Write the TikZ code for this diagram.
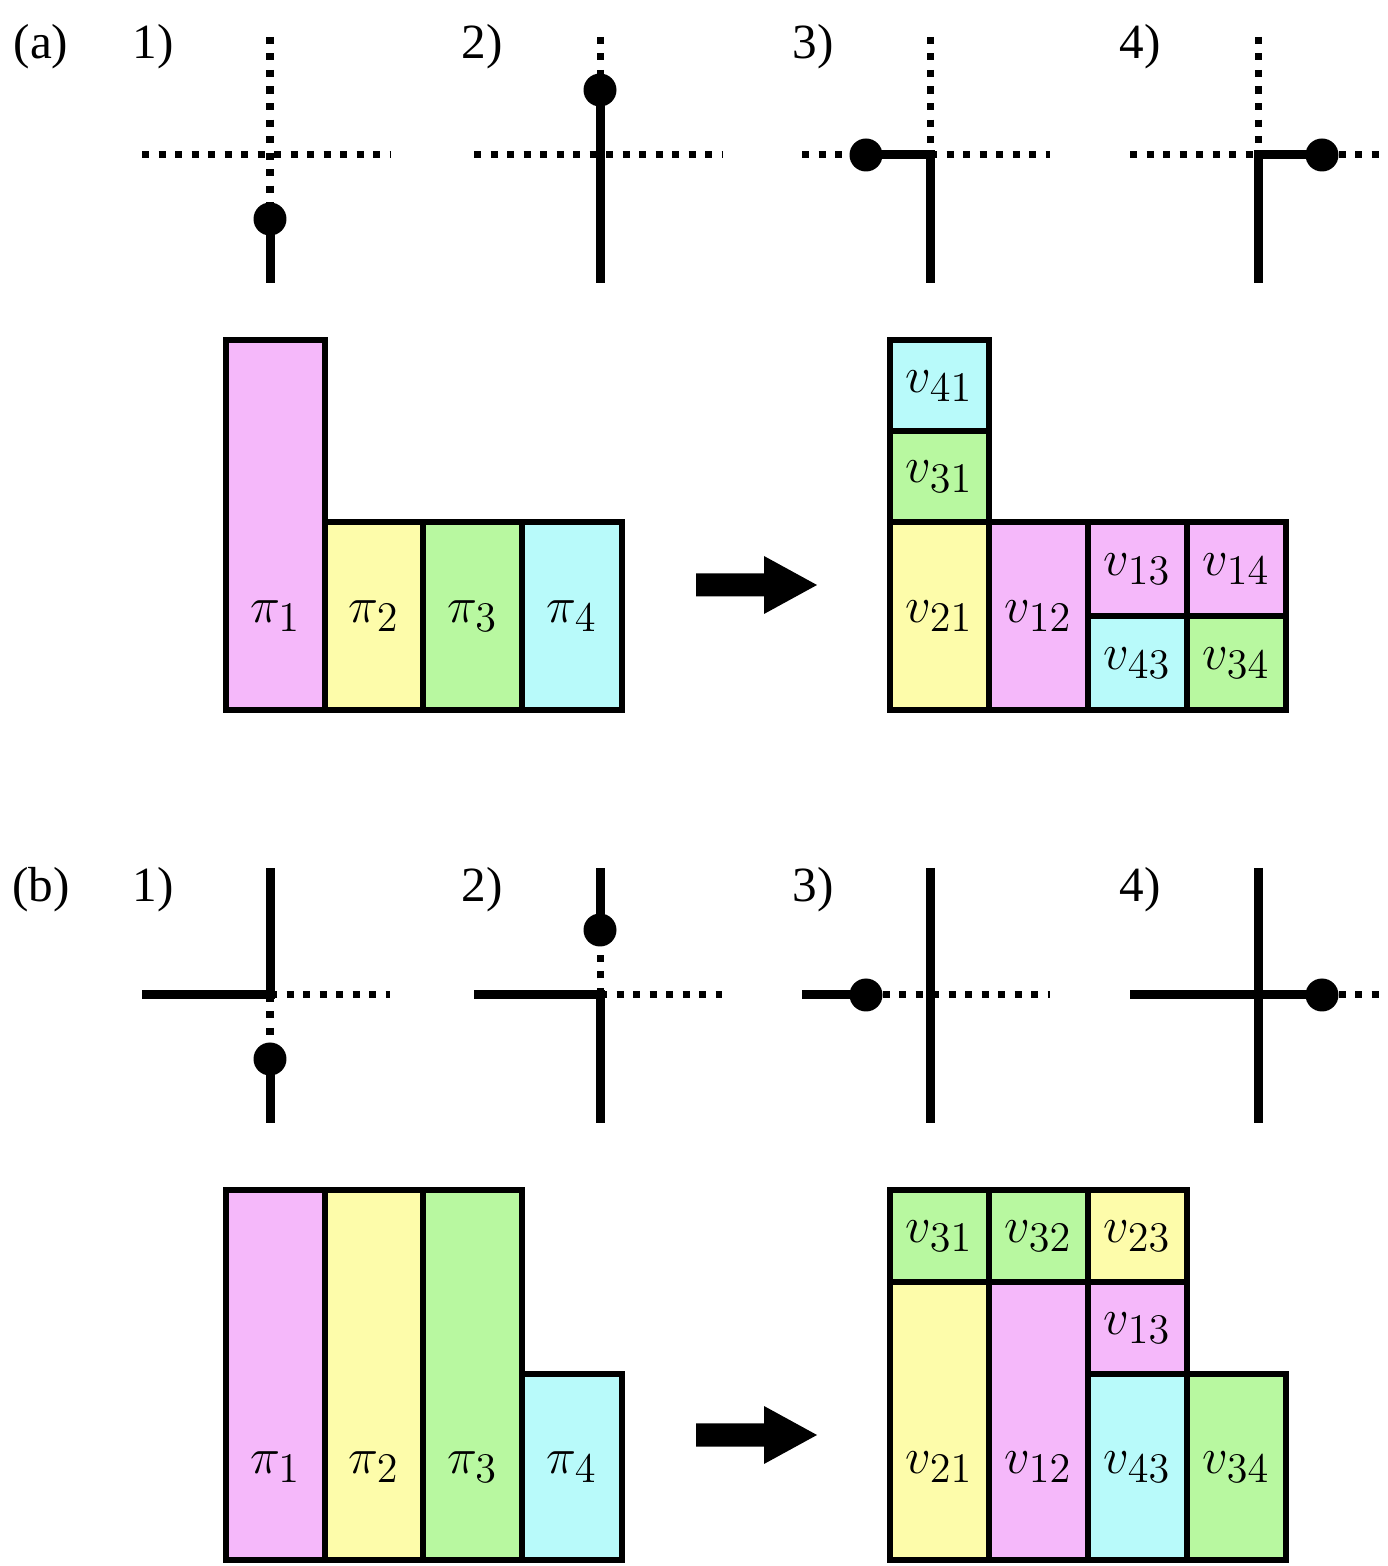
\documentclass[tikz,border=0pt]{standalone}
\usepackage[no-math]{fontspec}
\setmainfont{Liberation Serif}
\DeclareMathSizes{15}{15}{12.5}{10}
\definecolor{cpink}{RGB}{245,184,250}
\definecolor{cyellow}{RGB}{253,252,170}
\definecolor{cgreen}{RGB}{184,248,160}
\definecolor{ccyan}{RGB}{184,250,250}
\tikzset{
  wire/.style={line width=0.09cm},
  dotwire/.style={line width=0.07cm,dash pattern=on 0.07cm off 0.095cm},
  cell/.style={draw=black,line width=0.055cm},
  tag/.style={font=\fontsize{14}{17}\selectfont,anchor=base,inner sep=0pt},
  lab/.style={font=\fontsize{15}{18}\selectfont,inner sep=0pt}
}
\begin{document}
\begin{tikzpicture}[x=1cm,y=1cm]
\useasboundingbox (0,0) rectangle (13.88,15.66);
\node[tag] (parta) at (0.41,15.07) {(a)};
\node[tag] (partb) at (0.41,6.64) {(b)};
\foreach \k/\x in {1/1.53,2/4.82,3/8.13,4/11.40}{
  \node[tag] (stepa\k) at (\x,15.07) {\k)};
  \node[tag] (stepb\k) at (\x,6.64) {\k)};
}
% (a) crossings
\draw[dotwire] (1.42,14.11) -- (3.90,14.11);
\draw[dotwire] (2.70,15.29) -- (2.70,13.47);
\draw[wire] (2.70,13.47) -- (2.70,12.83);
\fill (2.70,13.47) circle (0.165);
\draw[dotwire] (4.74,14.11) -- (7.22,14.11);
\draw[dotwire] (6.00,15.29) -- (6.00,14.76);
\draw[wire] (6.00,14.76) -- (6.00,12.83);
\fill (6.00,14.76) circle (0.165);
\draw[dotwire] (8.02,14.11) -- (8.66,14.11);
\draw[dotwire] (9.30,14.11) -- (10.50,14.11);
\draw[dotwire] (9.30,15.29) -- (9.30,14.11);
\draw[wire] (8.66,14.11) -- (9.30,14.11) -- (9.30,12.83);
\fill (8.66,14.11) circle (0.165);
\draw[dotwire] (11.30,14.11) -- (12.58,14.11);
\draw[dotwire] (13.22,14.11) -- (13.80,14.11);
\draw[dotwire] (12.58,15.29) -- (12.58,14.11);
\draw[wire] (13.22,14.11) -- (12.58,14.11) -- (12.58,12.83);
\fill (13.22,14.11) circle (0.165);
% (b) crossings
\draw[wire] (1.42,5.71) -- (2.70,5.71) -- (2.70,6.98);
\draw[dotwire] (2.70,5.71) -- (3.90,5.71);
\draw[dotwire] (2.70,5.71) -- (2.70,5.07);
\draw[wire] (2.70,5.07) -- (2.70,4.43);
\fill (2.70,5.07) circle (0.165);
\draw[wire] (4.74,5.71) -- (6.00,5.71) -- (6.00,4.43);
\draw[dotwire] (6.00,5.71) -- (7.22,5.71);
\draw[dotwire] (6.00,5.71) -- (6.00,6.36);
\draw[wire] (6.00,6.36) -- (6.00,6.98);
\fill (6.00,6.36) circle (0.165);
\draw[wire] (9.30,6.98) -- (9.30,4.43);
\draw[wire] (8.02,5.71) -- (8.66,5.71);
\draw[dotwire] (8.66,5.71) -- (10.50,5.71);
\fill (8.66,5.71) circle (0.165);
\draw[wire] (12.58,6.98) -- (12.58,4.43);
\draw[wire] (11.30,5.71) -- (13.22,5.71);
\draw[dotwire] (13.22,5.71) -- (13.80,5.71);
\fill (13.22,5.71) circle (0.165);
% big arrows
\foreach \y in {9.81,1.31}
  \fill (6.96,\y-0.115) -- (7.64,\y-0.115) -- (7.64,\y-0.29) -- (8.17,\y)
    -- (7.64,\y+0.29) -- (7.64,\y+0.115) -- (6.96,\y+0.115) -- cycle;
% (a) blocks
\filldraw[cell,fill=cpink] (2.26,8.56) rectangle (3.25,12.26);
\filldraw[cell,fill=cyellow] (3.25,8.56) rectangle (4.23,10.44);
\filldraw[cell,fill=cgreen] (4.23,8.56) rectangle (5.22,10.44);
\filldraw[cell,fill=ccyan] (5.22,8.56) rectangle (6.22,10.44);
\node[lab] (pa1) at (2.755,9.50) {$\pi_1$};
\node[lab] (pa2) at (3.74,9.50) {$\pi_2$};
\node[lab] (pa3) at (4.725,9.50) {$\pi_3$};
\node[lab] (pa4) at (5.72,9.50) {$\pi_4$};
\filldraw[cell,fill=ccyan] (8.90,11.35) rectangle (9.89,12.26);
\filldraw[cell,fill=cgreen] (8.90,10.44) rectangle (9.89,11.35);
\filldraw[cell,fill=cyellow] (8.90,8.56) rectangle (9.89,10.44);
\filldraw[cell,fill=cpink] (9.89,8.56) rectangle (10.88,10.44);
\filldraw[cell,fill=cpink] (10.88,9.50) rectangle (11.87,10.44);
\filldraw[cell,fill=cpink] (11.87,9.50) rectangle (12.86,10.44);
\filldraw[cell,fill=ccyan] (10.88,8.56) rectangle (11.87,9.50);
\filldraw[cell,fill=cgreen] (11.87,8.56) rectangle (12.86,9.50);
\node[lab] (va41) at (9.395,11.80) {$v_{41}$};
\node[lab] (va31) at (9.395,10.895) {$v_{31}$};
\node[lab] (va21) at (9.395,9.50) {$v_{21}$};
\node[lab] (va12) at (10.385,9.50) {$v_{12}$};
\node[lab] (va13) at (11.375,9.97) {$v_{13}$};
\node[lab] (va14) at (12.365,9.97) {$v_{14}$};
\node[lab] (va43) at (11.375,9.03) {$v_{43}$};
\node[lab] (va34) at (12.365,9.03) {$v_{34}$};
% (b) blocks
\filldraw[cell,fill=cpink] (2.26,0.06) rectangle (3.25,3.76);
\filldraw[cell,fill=cyellow] (3.25,0.06) rectangle (4.23,3.76);
\filldraw[cell,fill=cgreen] (4.23,0.06) rectangle (5.22,3.76);
\filldraw[cell,fill=ccyan] (5.22,0.06) rectangle (6.22,1.92);
\node[lab] (pb1) at (2.755,0.99) {$\pi_1$};
\node[lab] (pb2) at (3.74,0.99) {$\pi_2$};
\node[lab] (pb3) at (4.725,0.99) {$\pi_3$};
\node[lab] (pb4) at (5.72,0.99) {$\pi_4$};
\filldraw[cell,fill=cgreen] (8.90,2.84) rectangle (9.89,3.76);
\filldraw[cell,fill=cgreen] (9.89,2.84) rectangle (10.88,3.76);
\filldraw[cell,fill=cyellow] (10.88,2.84) rectangle (11.87,3.76);
\filldraw[cell,fill=cyellow] (8.90,0.06) rectangle (9.89,2.84);
\filldraw[cell,fill=cpink] (9.89,0.06) rectangle (10.88,2.84);
\filldraw[cell,fill=cpink] (10.88,1.92) rectangle (11.87,2.84);
\filldraw[cell,fill=ccyan] (10.88,0.06) rectangle (11.87,1.92);
\filldraw[cell,fill=cgreen] (11.87,0.06) rectangle (12.86,1.92);
\node[lab] (vb31) at (9.395,3.30) {$v_{31}$};
\node[lab] (vb32) at (10.385,3.30) {$v_{32}$};
\node[lab] (vb23) at (11.375,3.30) {$v_{23}$};
\node[lab] (vb13) at (11.375,2.38) {$v_{13}$};
\node[lab] (vb21) at (9.395,0.99) {$v_{21}$};
\node[lab] (vb12) at (10.385,0.99) {$v_{12}$};
\node[lab] (vb43) at (11.375,0.99) {$v_{43}$};
\node[lab] (vb34) at (12.365,0.99) {$v_{34}$};
\end{tikzpicture}
\end{document}
